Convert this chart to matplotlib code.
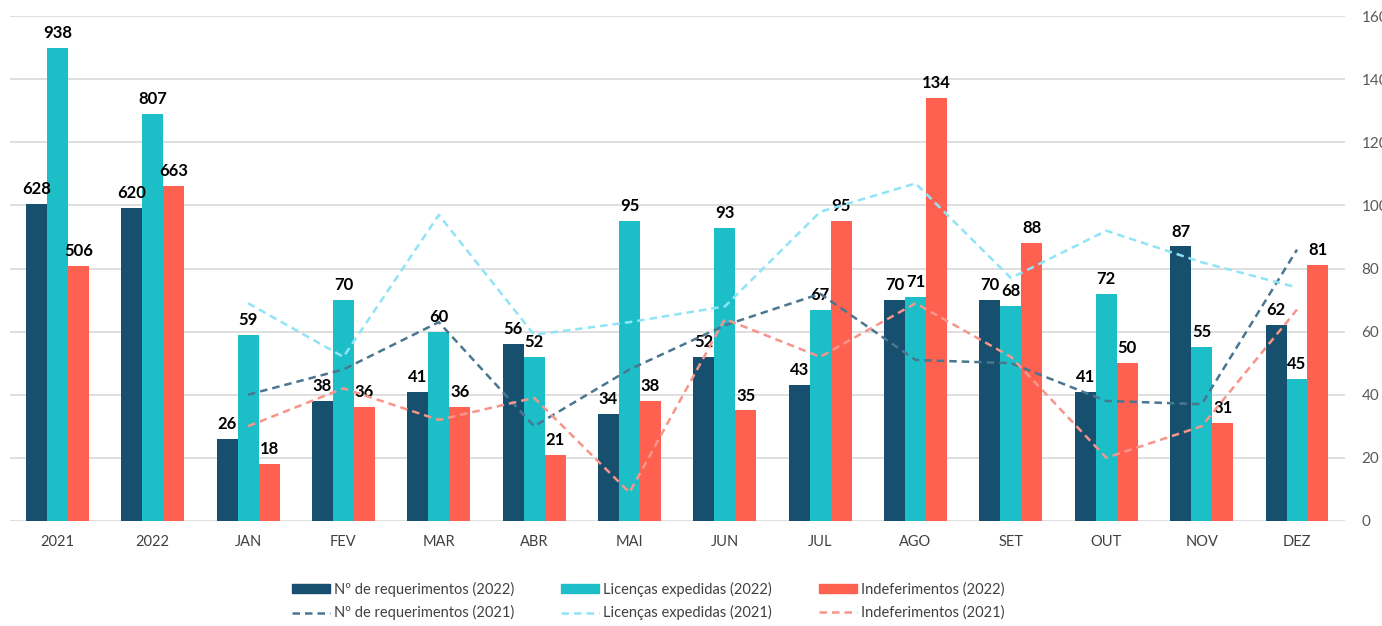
import numpy as np
import matplotlib.pyplot as plt
from matplotlib.patches import Patch
from matplotlib.lines import Line2D

plt.rcParams['font.family'] = ['Lato', 'DejaVu Sans']

# =========================
# Données
# =========================
categorias = ["2021", "2022", "JAN", "FEV", "MAR", "ABR", "MAI", "JUN",
              "JUL", "AGO", "SET", "OUT", "NOV", "DEZ"]

# totais anuais (eixo esquerdo, oculto)
anual_req = [628, 620]
anual_lic = [938, 807]
anual_ind = [506, 663]

# mensal 2022 (barras, eixo direito)
req_2022 = [26, 38, 41, 56, 34, 52, 43, 70, 70, 41, 87, 62]
lic_2022 = [59, 70, 60, 52, 95, 93, 67, 71, 68, 72, 55, 45]
ind_2022 = [18, 36, 36, 21, 38, 35, 95, 134, 88, 50, 31, 81]

# mensal 2021 (linhas tracejadas, eixo direito)
req_2021 = [40, 48, 63, 30, 48, 62, 72, 51, 50, 38, 37, 86]
lic_2021 = [69, 52, 97, 59, 63, 68, 98, 107, 77, 92, 82, 74]
ind_2021 = [30, 42, 32, 39, 9, 64, 52, 69, 52, 20, 30, 67]

c_req = "#174F6E"
c_lic = "#1CBFC7"
c_ind = "#FF6150"
c_req21 = "#4A7690"
c_lic21 = "#8FE4F6"
c_ind21 = "#F7958A"

# =========================
# Figure
# =========================
fig = plt.figure(figsize=(13.82, 6.26), dpi=100)
ax = fig.add_axes([0.007, 0.168, 0.966, 0.806])
ax2 = ax.twinx()

x = np.arange(len(categorias))
xa = x[:2]
xm = x[2:]
w = 0.22

# barras anuais
ax.bar(xa - w, anual_req, w, color=c_req, zorder=2)
ax.bar(xa, anual_lic, w, color=c_lic, zorder=2)
ax.bar(xa + w, anual_ind, w, color=c_ind, zorder=2)
ax.set_ylim(0, 1000)
ax.set_yticks(np.arange(0, 1001, 125))
ax.set_yticklabels([])
ax.tick_params(axis='y', length=0)
ax.grid(axis='y', color="#D9D9D9", linewidth=1.2)
ax.set_axisbelow(True)

for off, vals in zip([-w, 0, w], [anual_req, anual_lic, anual_ind]):
    for xi, v in zip(xa + off, vals):
        ax.annotate(str(v), (xi, v), xytext=(0, 5), textcoords="offset points",
                    ha="center", va="bottom", fontsize=12, fontweight="bold")

# barras mensais
ax2.bar(xm - w, req_2022, w, color=c_req, zorder=2)
ax2.bar(xm, lic_2022, w, color=c_lic, zorder=2)
ax2.bar(xm + w, ind_2022, w, color=c_ind, zorder=2)

for off, vals in zip([-w, 0, w], [req_2022, lic_2022, ind_2022]):
    for xi, v in zip(xm + off, vals):
        ax2.annotate(str(v), (xi, v), xytext=(0, 5), textcoords="offset points",
                     ha="center", va="bottom", fontsize=12, fontweight="bold")

# linhas 2021
ls = (0, (3, 2))
ax2.plot(xm, req_2021, color=c_req21, linestyle=ls, linewidth=1.8, zorder=3)
ax2.plot(xm, lic_2021, color=c_lic21, linestyle=ls, linewidth=1.8, zorder=3)
ax2.plot(xm, ind_2021, color=c_ind21, linestyle=ls, linewidth=1.8, zorder=3)

ax2.set_ylim(0, 160)
ax2.set_yticks(np.arange(0, 161, 20))
ax2.tick_params(axis='y', length=0, pad=12, labelsize=11, labelcolor="#595959")

ax.set_xlim(-0.5, len(categorias) - 0.5)
ax.set_xticks(x)
ax.set_xticklabels(categorias)
ax.tick_params(axis='x', length=0, pad=10, labelsize=10.5, labelcolor="#404040")

for a in (ax, ax2):
    for s in a.spines.values():
        s.set_visible(False)

# =========================
# Legenda
# =========================
handles = [
    Patch(color=c_req), Line2D([], [], color=c_req21, linestyle=ls, linewidth=1.8),
    Patch(color=c_lic), Line2D([], [], color=c_lic21, linestyle=ls, linewidth=1.8),
    Patch(color=c_ind), Line2D([], [], color=c_ind21, linestyle=ls, linewidth=1.8),
]
labels = [
    "Nº de requerimentos (2022)", "Nº de requerimentos (2021)",
    "Licenças expedidas (2022)", "Licenças expedidas (2021)",
    "Indeferimentos (2022)", "Indeferimentos (2021)",
]
fig.legend(handles, labels, ncol=3, loc="center", bbox_to_anchor=(0.469, 0.04),
           frameon=False, fontsize=10.5, handlelength=2.6, handleheight=0.55,
           handletextpad=0.3, columnspacing=3.2, labelspacing=0.6,
           labelcolor="#404040")

fig.savefig("out.png", dpi=100)
